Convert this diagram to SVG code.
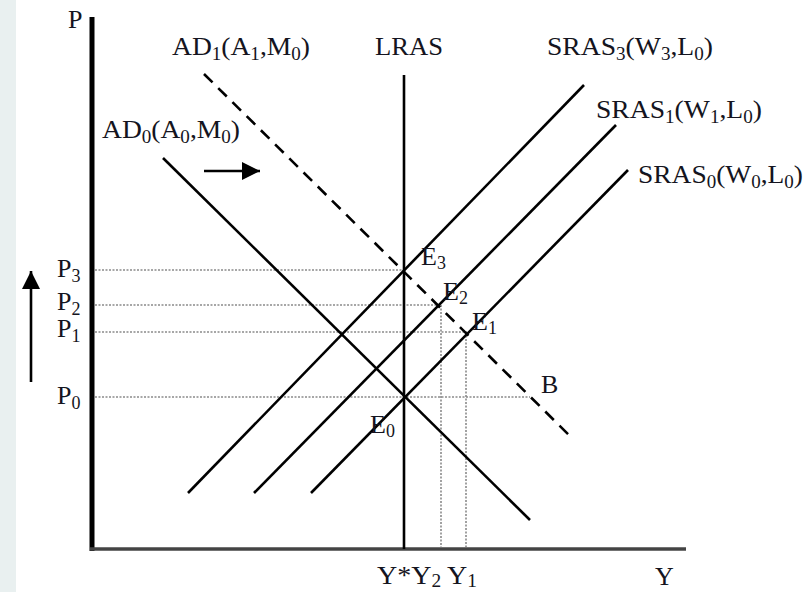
<svg xmlns="http://www.w3.org/2000/svg" width="807" height="592" viewBox="0 0 807 592">
<style>
text{font-family:"Liberation Serif","Times New Roman",serif;font-size:26px;fill:#141420}
.s{font-size:18px}
.ln{stroke:#000;fill:none;stroke-width:2.6;stroke-linecap:butt}
.dot{stroke:#8a8a8a;fill:none;stroke-width:1.6;stroke-dasharray:2 1.5}
</style>
<defs>
<marker id="ah" viewBox="0 0 10 10" refX="10" refY="5" markerWidth="18" markerHeight="18" markerUnits="userSpaceOnUse" orient="auto">
<path d="M0,0 L10,5 L0,10 Z" fill="#000"/>
</marker>
</defs>
<rect x="0" y="0" width="807" height="592" fill="#fff"/>
<rect x="0" y="0" width="16" height="592" fill="#e9f0f0"/>
<g id="axes">
<line x1="92" y1="17" x2="92" y2="551" stroke="#000" stroke-width="5"/>
<line x1="90" y1="549" x2="686" y2="549" stroke="#444" stroke-width="3.5"/>
</g>
<g id="guides">
<line class="dot" x1="95" y1="270" x2="404" y2="270"/>
<line class="dot" x1="95" y1="305" x2="441" y2="305"/>
<line class="dot" x1="95" y1="332" x2="467" y2="332"/>
<line class="dot" x1="95" y1="397" x2="530" y2="397"/>
<line class="dot" x1="441" y1="305" x2="441" y2="547"/>
<line class="dot" x1="466" y1="332" x2="466" y2="547"/>
</g>
<g id="connectors">
<line id="lras" class="ln" x1="404" y1="75" x2="404" y2="549" stroke-width="3"/>
<line id="ad0" class="ln" x1="163" y1="158" x2="530" y2="520" stroke-width="3"/>
<line id="ad1" class="ln" x1="204" y1="74" x2="571" y2="437" stroke-width="3" stroke-dasharray="12 8"/>
<line id="sras3" class="ln" x1="188" y1="493" x2="584" y2="85"/>
<line id="sras1" class="ln" x1="254" y1="493" x2="616" y2="125"/>
<line id="sras0" class="ln" x1="311" y1="493" x2="628" y2="170"/>
<line id="shift" class="ln" x1="204" y1="171" x2="260" y2="171" marker-end="url(#ah)"/>
<line id="up" class="ln" x1="31" y1="382" x2="31" y2="271" marker-end="url(#ah)"/>
</g>
<g id="labels">
<text x="68" y="28">P</text>
<text x="172" y="55" textLength="138" lengthAdjust="spacingAndGlyphs">AD<tspan class="s" dy="5">1</tspan><tspan dy="-5">(A</tspan><tspan class="s" dy="5">1</tspan><tspan dy="-5">,M</tspan><tspan class="s" dy="5">0</tspan><tspan dy="-5">)</tspan></text>
<text x="375" y="55" textLength="68" lengthAdjust="spacingAndGlyphs">LRAS</text>
<text x="547" y="55" textLength="166" lengthAdjust="spacingAndGlyphs">SRAS<tspan class="s" dy="5">3</tspan><tspan dy="-5">(W</tspan><tspan class="s" dy="5">3</tspan><tspan dy="-5">,L</tspan><tspan class="s" dy="5">0</tspan><tspan dy="-5">)</tspan></text>
<text x="596" y="118" textLength="166" lengthAdjust="spacingAndGlyphs">SRAS<tspan class="s" dy="5">1</tspan><tspan dy="-5">(W</tspan><tspan class="s" dy="5">1</tspan><tspan dy="-5">,L</tspan><tspan class="s" dy="5">0</tspan><tspan dy="-5">)</tspan></text>
<text x="638" y="183" textLength="165" lengthAdjust="spacingAndGlyphs">SRAS<tspan class="s" dy="5">0</tspan><tspan dy="-5">(W</tspan><tspan class="s" dy="5">0</tspan><tspan dy="-5">,L</tspan><tspan class="s" dy="5">0</tspan><tspan dy="-5">)</tspan></text>
<text x="102" y="138" textLength="138" lengthAdjust="spacingAndGlyphs">AD<tspan class="s" dy="5">0</tspan><tspan dy="-5">(A</tspan><tspan class="s" dy="5">0</tspan><tspan dy="-5">,M</tspan><tspan class="s" dy="5">0</tspan><tspan dy="-5">)</tspan></text>
<text x="57" y="277">P<tspan class="s" dy="5">3</tspan></text>
<text x="57" y="310">P<tspan class="s" dy="5">2</tspan></text>
<text x="57" y="337">P<tspan class="s" dy="5">1</tspan></text>
<text x="57" y="404">P<tspan class="s" dy="5">0</tspan></text>
<text x="421" y="265">E<tspan class="s" dy="4">3</tspan></text>
<text x="443" y="300">E<tspan class="s" dy="4">2</tspan></text>
<text x="472" y="330">E<tspan class="s" dy="4">1</tspan></text>
<text x="541" y="393">B</text>
<text x="370" y="433">E<tspan class="s" dy="4">0</tspan></text>
<text x="377" y="584" textLength="100" lengthAdjust="spacingAndGlyphs">Y*Y<tspan class="s" dy="3">2</tspan><tspan dy="-3"> Y</tspan><tspan class="s" dy="3">1</tspan></text>
<text x="655" y="585">Y</text>
</g>
</svg>
